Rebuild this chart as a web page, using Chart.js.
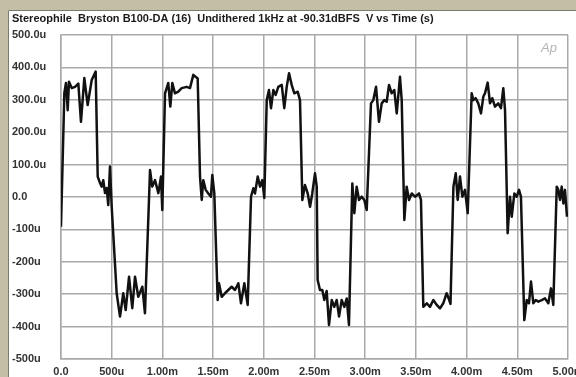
<!DOCTYPE html>
<html>
<head>
<meta charset="utf-8">
<script src="https://cdn.jsdelivr.net/npm/chart.js@4/dist/chart.umd.min.js"></script>
<style>
  html, body { margin: 0; padding: 0; background: #c3bfa7; }
  #wrap { position: relative; width: 576px; height: 377px; }
  canvas { display: block; }
</style>
</head>
<body>
<div id="wrap"><canvas id="c" width="576" height="377"></canvas></div>
<script>
// Undithered 1 kHz tone at -90.31 dBFS, time in ms, level in microvolts
const timeMs = [
  0.000, 0.033, 0.049, 0.066, 0.079, 0.106, 0.138, 0.171, 0.197, 0.230,
  0.263, 0.303, 0.342, 0.362, 0.385, 0.401, 0.417, 0.434, 0.451, 0.466,
  0.483, 0.500, 0.549, 0.582, 0.614, 0.638, 0.671, 0.703, 0.730, 0.762,
  0.802, 0.828, 0.878, 0.900, 0.927, 0.960, 0.986, 0.999, 1.026, 1.058,
  1.078, 1.098, 1.124, 1.157, 1.190, 1.240, 1.272, 1.305, 1.348, 1.371,
  1.388, 1.403, 1.427, 1.453, 1.479, 1.492, 1.512, 1.545, 1.558, 1.585,
  1.617, 1.650, 1.683, 1.716, 1.749, 1.775, 1.808, 1.841, 1.874, 1.897,
  1.913, 1.940, 1.963, 1.985, 2.005, 2.029, 2.051, 2.071, 2.094, 2.117,
  2.143, 2.177, 2.202, 2.226, 2.249, 2.275, 2.301, 2.334, 2.357, 2.380,
  2.406, 2.433, 2.456, 2.478, 2.505, 2.522, 2.531, 2.554, 2.577, 2.597,
  2.620, 2.643, 2.670, 2.695, 2.719, 2.742, 2.768, 2.794, 2.818, 2.840,
  2.873, 2.893, 2.916, 2.939, 2.965, 2.991, 3.015, 3.057, 3.080, 3.107,
  3.136, 3.163, 3.188, 3.212, 3.235, 3.261, 3.287, 3.311, 3.343, 3.360,
  3.386, 3.409, 3.432, 3.459, 3.491, 3.531, 3.550, 3.573, 3.607, 3.639,
  3.672, 3.705, 3.738, 3.770, 3.803, 3.829, 3.841, 3.870, 3.893, 3.912,
  3.935, 3.958, 3.984, 4.011, 4.050, 4.066, 4.090, 4.115, 4.142, 4.165,
  4.181, 4.208, 4.231, 4.253, 4.280, 4.312, 4.339, 4.362, 4.379, 4.405,
  4.428, 4.445, 4.471, 4.494, 4.517, 4.536, 4.569, 4.593, 4.615, 4.635,
  4.658, 4.682, 4.707, 4.741, 4.773, 4.806, 4.832, 4.855, 4.889, 4.905,
  4.921, 4.938, 4.954, 4.970, 4.990
];
const microvolts = [
   -92,  321,  352,  268,  356,  336,  340,  350,  232,  367,
   284,  361,  387,   63,   43,   32,   52,   12,   28,  -25,
    94,  -30, -297, -369, -297, -349, -246, -343, -246, -308,
  -277, -359,   83,   32,   52,   12,   63,  -40,  320,  352,
   279,  352,  320,  325,  336,  340,  336,  377,  366,   63,
    -9,   52,   22,   11,    1,   68,   11, -318, -266, -308,
  -297, -287, -277, -287, -266, -328, -266, -333,    1,   27,
    11,   63,   32,   52,   -3,  299,  330,  274,  330,  315,
   340,  346,  274,  340,  382,  346,  320,  325,  299,   -9,
    37,   11,  -30,   11,   73,   32, -256, -287, -287, -318,
  -290, -395, -318, -339, -318, -369, -318, -339, -313, -395,
    42,  -50,   32,   -9,    1,   -9,  -40,  289,  299,  340,
   232,  289,  299,  294,  346,  320,  330,  258,  371,  299,
   -71,   32,   -9,   11,    1,   11,   -9, -339, -328, -339,
  -318, -333, -344, -328, -297, -318, -330,   32,   73,   -9,
    63,    1,   22,  -50,  320,  299,  305,  289,  258,  310,
   320,  353,  289,  305,  279,  289,  274,  336,  268, -112,
     1,  -61,   11,    1,   22,    1, -380, -318, -328, -261,
  -328, -318, -323, -318, -313, -328, -282, -333,   32,   22,
    -9,   32,  -20,   22,  -61
];

const xTickLabels = ['0.0', '500u', '1.00m', '1.50m', '2.00m', '2.50m', '3.00m', '3.50m', '4.00m', '4.50m', '5.00m'];
const yTickLabels = ['-500u', '-400u', '-300u', '-200u', '-100u', '0.0', '100.0u', '200.0u', '300.0u', '400.0u', '500.0u'];

const chartTitle = 'Stereophile  Bryston B100-DA (16)  Undithered 1kHz at -90.31dBFS  V vs Time (s)';
const logoText = 'Ap';

const FONT = '"Liberation Sans", Arial, sans-serif';

// White panel, title and logo around the plot
const panelPlugin = {
  id: 'panel',
  beforeDraw(chart) {
    const ctx = chart.ctx;
    ctx.save();
    ctx.fillStyle = '#ffffff';
    ctx.fillRect(8, 10, chart.width - 8, chart.height - 10);
    ctx.strokeStyle = '#7d7b70';
    ctx.lineWidth = 1;
    ctx.beginPath();
    ctx.moveTo(8.5, chart.height);
    ctx.lineTo(8.5, 10.5);
    ctx.lineTo(chart.width, 10.5);
    ctx.stroke();
    ctx.fillStyle = '#1a1a1a';
    ctx.font = 'bold 11px ' + FONT;
    ctx.textBaseline = 'middle';
    ctx.textAlign = 'left';
    ctx.fillText(chartTitle, 12, 19);
    ctx.restore();
  },
  afterDatasetsDraw(chart) {
    const ctx = chart.ctx;
    ctx.save();
    ctx.fillStyle = '#b4b4b4';
    ctx.font = 'italic 13px ' + FONT;
    ctx.textBaseline = 'alphabetic';
    ctx.textAlign = 'left';
    ctx.fillText(logoText, 541, 52);
    ctx.restore();
  }
};

new Chart(document.getElementById('c'), {
  type: 'line',
  data: {
    datasets: [{
      data: timeMs.map((t, i) => ({ x: t, y: microvolts[i] })),
      borderColor: '#111111',
      borderWidth: 2.5,
      borderJoinStyle: 'round',
      pointRadius: 0,
      tension: 0,
      fill: false
    }]
  },
  options: {
    responsive: false,
    animation: false,
    events: [],
    layout: { padding: { left: 12, top: 35, right: 8, bottom: 0 } },
    plugins: { legend: { display: false }, title: { display: false }, tooltip: { enabled: false } },
    scales: {
      x: {
        type: 'linear',
        min: 0, max: 5,
        afterBuildTicks(scale) {
          scale.ticks = xTickLabels.map((_, i) => ({ value: i * 0.5 }));
        },
        afterFit(scale) { scale.height = 18; scale.paddingLeft = 0; scale.paddingRight = 0; },
        grid: { color: '#a9a9a9', lineWidth: 1.5, drawTicks: false },
        border: { color: '#a9a9a9', width: 1.5 },
        ticks: {
          autoSkip: false, maxRotation: 0, padding: 6,
          color: '#333333', font: { family: FONT, size: 11, weight: 'bold' },
          callback: (v, i) => xTickLabels[i]
        }
      },
      y: {
        type: 'linear',
        min: -500, max: 500,
        afterBuildTicks(scale) {
          scale.ticks = yTickLabels.map((_, i) => ({ value: -500 + i * 100 }));
        },
        afterFit(scale) { scale.width = 49; scale.paddingTop = 0; scale.paddingBottom = 0; },
        grid: { color: '#a9a9a9', lineWidth: 1.5, drawTicks: false },
        border: { color: '#a9a9a9', width: 1.5 },
        ticks: {
          autoSkip: false, crossAlign: 'far', padding: 0,
          color: '#333333', font: { family: FONT, size: 11, weight: 'bold' },
          callback: (v, i) => yTickLabels[i]
        }
      }
    }
  },
  plugins: [panelPlugin]
});
</script>
</body>
</html>
